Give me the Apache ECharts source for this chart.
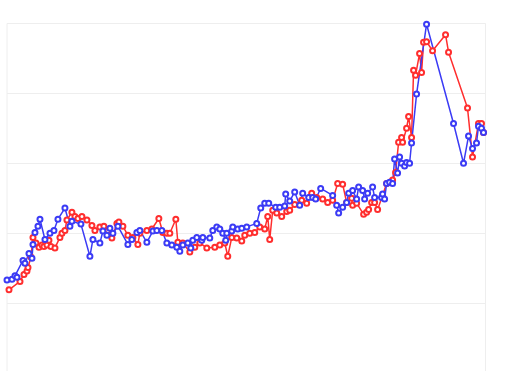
<!DOCTYPE html>
<html>
<head>
<meta charset="utf-8">
<script src="https://cdn.jsdelivr.net/npm/echarts@6/dist/echarts.min.js"></script>
<style>
html,body{margin:0;padding:0;overflow:hidden;background:#fff;}
#chart{width:507px;height:400px;}
</style>
</head>
<body>
<div id="chart"></div>
<script>
const redX = [2,13,17,20,21,24,26,29,32,35,37,40,42,44,48,53,55,58,60,65,68,71,75,80,85,88,93,97,101,105,110,112,116,121,126,131,133,140,145,152,156,160,163,169,171,176,183,188,193,200,208,213,218,221,225,230,235,238,243,248,253,258,261,263,266,270,275,280,283,288,295,300,305,310,316,321,326,331,336,340,345,346,350,357,360,362,365,368,371,376,380,386,389,392,395,396,400,402,405,407,409,413,415,417,420,426,439,442,461,466,472,475,477];
const redY = [119,131,141,146,151,166,194,186,180,183,181,183,190,181,179,194,200,204,219,230,224,221,224,219,211,204,209,210,204,193,214,216,210,197,194,184,200,204,206,221,201,200,200,220,187,186,173,180,186,179,180,183,186,167,194,193,189,197,200,201,209,206,224,191,233,229,224,231,233,241,247,243,257,251,249,244,247,271,270,244,250,240,243,227,230,234,244,244,234,254,271,276,287,330,337,330,350,367,337,433,426,457,430,473,474,461,484,459,379,309,357,357,344];
const blueX = [0,5,8,10,16,18,22,25,26,28,31,33,38,43,47,51,58,63,65,74,83,86,93,96,100,103,106,111,121,125,130,133,140,146,150,155,160,165,170,173,176,181,184,186,190,195,196,203,206,210,213,216,219,220,225,226,231,235,240,250,254,258,262,269,273,278,279,283,288,293,296,302,306,309,314,326,330,332,336,340,342,346,350,352,356,358,361,366,368,375,376,378,380,383,386,388,391,393,395,398,400,403,405,410,420,447,457,462,466,470,472,475,477];
const blueY = [133,134,139,137,161,157,171,164,184,201,210,220,191,200,204,220,236,210,217,213,167,191,186,203,197,207,200,210,184,191,201,204,187,203,204,204,186,183,180,174,183,186,179,190,194,190,194,193,204,209,206,200,190,200,203,209,206,207,209,214,236,243,243,237,237,239,256,246,259,240,257,251,251,249,264,254,240,229,237,244,257,261,249,266,261,249,257,266,251,251,256,249,271,273,271,306,286,309,300,296,301,300,329,399,499,357,300,339,321,329,353,350,344];
const seriesNames = ['Red','Blue'];
const yTicks = {min:0, max:500, interval:100};
const xRange = {min:0, max:479};

const zip = (xs, ys) => xs.map((x, i) => [x, ys[i]]);

const chart = echarts.init(document.getElementById('chart'), null, {renderer:'canvas'});
chart.setOption({
  animation: false,
  grid: {left: 7, right: 21.5, top: 23.5, bottom: 27, show: true, borderColor: '#eeeeee', borderWidth: 1},
  xAxis: {type: 'value', min: xRange.min, max: xRange.max,
    axisLine: {show: false}, axisTick: {show: false}, axisLabel: {show: false}, splitLine: {show: false}},
  yAxis: {type: 'value', min: yTicks.min, max: yTicks.max, interval: yTicks.interval,
    axisLine: {show: false}, axisTick: {show: false}, axisLabel: {show: false},
    splitLine: {show: true, lineStyle: {color: '#eeeeee', width: 1}}},
  series: [
    {name: seriesNames[0], type: 'line', data: zip(redX, redY), symbol: 'emptyCircle', symbolSize: 5,
      itemStyle: {color: '#ff2e2e', borderWidth: 1.5}, lineStyle: {color: '#ff2e2e', width: 1.5}},
    {name: seriesNames[1], type: 'line', data: zip(blueX, blueY), symbol: 'emptyCircle', symbolSize: 5,
      itemStyle: {color: '#3b3bf5', borderWidth: 1.5}, lineStyle: {color: '#3b3bf5', width: 1.5}}
  ]
});
</script>
</body>
</html>
